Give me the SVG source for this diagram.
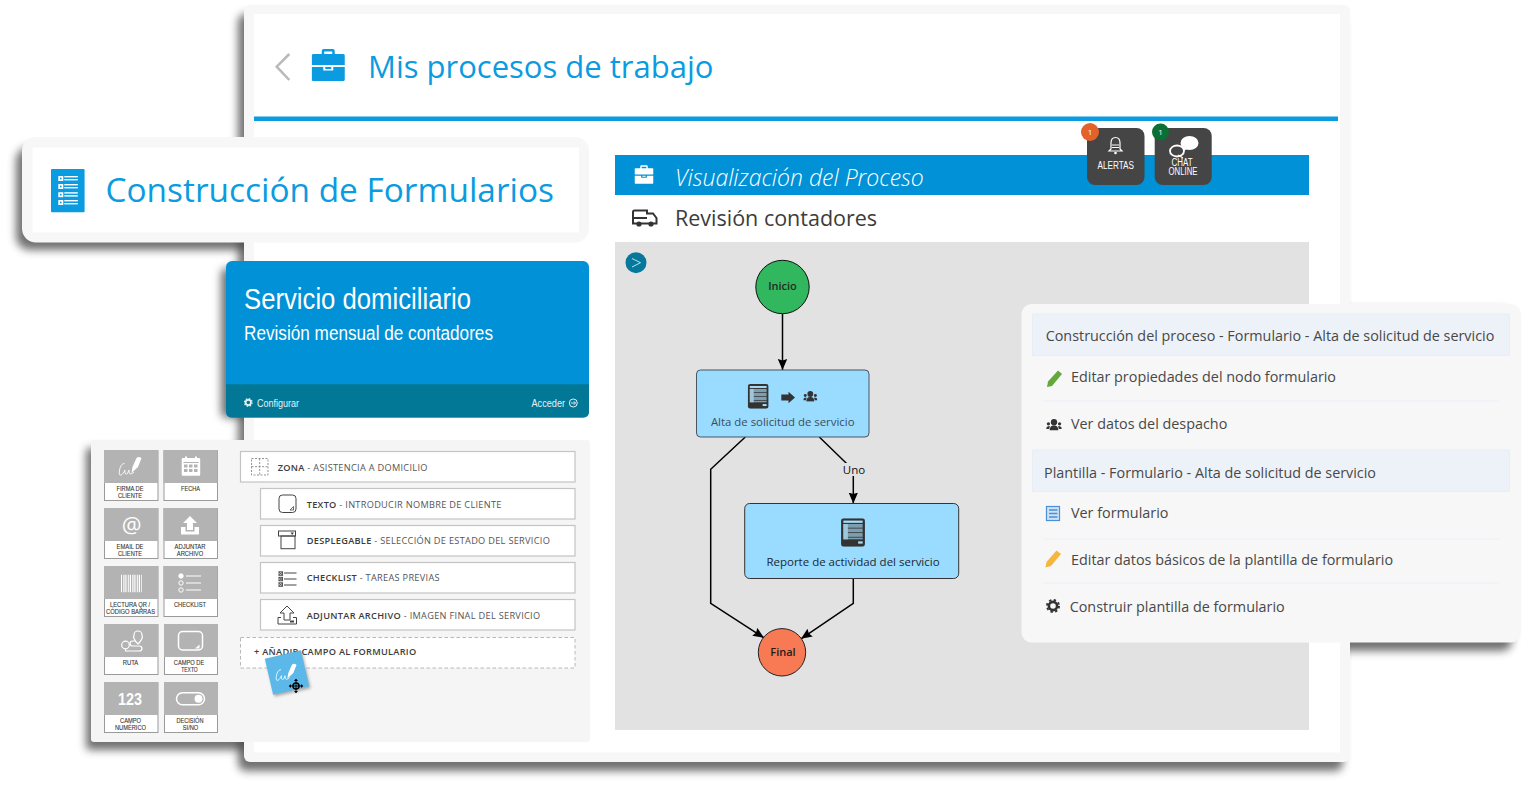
<svg xmlns="http://www.w3.org/2000/svg" width="1531" height="790" viewBox="0 0 1531 790">
<style>
text{font-family:"Open Sans","Noto Sans","Liberation Sans",sans-serif}
.sh{fill:#4a4a4a;opacity:.78;filter:url(#bl)}
.title{fill:#0a9be0;font-weight:400}
.tile-g{fill:#b3b3b3}
.tile{fill:#fff;stroke:#9a9a9a;stroke-width:1}
.tl{font-family:"Liberation Sans",Arial,sans-serif;font-size:7px;fill:#333;text-anchor:middle;stroke:#333;stroke-width:.1}
.frow{fill:#fff;stroke:#c4c4c4;stroke-width:1.2}
.ft{font-size:9.2px;letter-spacing:.3px;fill:#555}
.ft tspan{font-weight:600;fill:#3c3c3c}
.ic{fill:none;stroke:#444;stroke-width:1}
.w{fill:#fff}
.wl{fill:none;stroke:#fff;stroke-width:1.5}
.edge{fill:none;stroke:#000;stroke-width:1.5}
.nt{font-size:11.4px;fill:#3c4c5c;text-anchor:middle}
.mt{font-size:14.37px;fill:#484848}
.band{fill:#edf2f9;stroke:#e8eef7;stroke-width:1}
.div{stroke:#f0f3f8;stroke-width:2}
.btn{fill:#454545}
.bt{font-family:"Liberation Sans",Arial,sans-serif;font-size:10px;fill:#fff;text-anchor:middle}
.cf{font-family:"Liberation Sans",Arial,sans-serif;font-size:11px;fill:#e4f2f6}
.cd{font-family:"Liberation Sans",Arial,sans-serif;fill:#fff}
</style>
<defs>
<filter id="bl" x="-10%" y="-20%" width="120%" height="140%"><feGaussianBlur stdDeviation="4"/></filter>
<filter id="sm" x="-30%" y="-30%" width="160%" height="160%"><feGaussianBlur stdDeviation="1.5"/></filter>
<marker id="ah" markerUnits="userSpaceOnUse" markerWidth="12" markerHeight="10" refX="11" refY="5" orient="auto"><path d="M0,0.3 L11,5 L0,9.7 L1.5,5 Z" fill="#000"/></marker>
<symbol id="table" viewBox="0 0 21 25"><rect width="21" height="25" rx="2.5" fill="#333"/><rect x="2" y="2" width="17" height="2" fill="#a8dcf5"/><g fill="#7d9eb0"><rect x="2" y="5" width="17" height="3.3"/><rect x="2" y="9" width="17" height="3.3"/><rect x="2" y="13" width="17" height="3.3"/><rect x="2" y="17" width="17" height="1.5"/></g><g fill="#9cc7dc"><rect x="2" y="5" width="4" height="13.5"/></g><rect x="15" y="20.3" width="4" height="2" fill="#a8dcf5"/></symbol>
<symbol id="users" viewBox="0 0 16 12"><circle cx="8" cy="3.3" r="3.3" fill="#333"/><circle cx="2.2" cy="5" r="1.7" fill="#333"/><circle cx="13.8" cy="5" r="1.7" fill="#333"/><path d="M3.5,12 C3.5,8 5.5,6.8 8,6.8 C10.5,6.8 12.5,8 12.5,12Z" fill="#333"/><path d="M0,10.5 C0,8 1,7.3 3.7,7.3 L3,10.5Z M16,10.5 C16,8 15,7.3 12.3,7.3 L13,10.5Z" fill="#333"/></symbol>
<symbol id="sig" viewBox="0 0 24 20"><path d="M6.5,7 C3,6.5 .5,14 1.5,18 C3,20 6,16.5 7,13.5 C6.5,16 7.5,19 9.5,17 L11,13.5 C10.5,18 13,18.5 16,15.5" fill="none" stroke="#fff" stroke-width=".9"/><path d="M13.5,16.5 L14.5,10.5 L18.5,1.5 Q21,-.5 23.5,1.8 L20,10.5Z" fill="#fff"/></symbol>
<symbol id="brief" viewBox="0 0 33 32"><path d="M10,5 V2 Q10,0 12,0 H21 Q23,0 23,2 V5 H20.5 V2.5 H12.5 V5Z M1.5,5 H31.5 Q33,5 33,6.5 V16 H0 V6.5 Q0,5 1.5,5Z M0,18 H11.5 V21.5 H21.5 V18 H33 V30.5 Q33,32 31.5,32 H1.5 Q0,32 0,30.5Z M13.5,18 H19.5 V20 H13.5Z" fill="currentColor"/></symbol>
<symbol id="gear" viewBox="0 0 16 16"><circle cx="8" cy="8" r="4.7" fill="none" stroke="currentColor" stroke-width="3"/><circle cx="8" cy="8" r="6.9" fill="none" stroke="currentColor" stroke-width="2.2" stroke-dasharray="2.7 2.72"/></symbol>
</defs>

<g id="shadows">
<rect class="sh" x="16" y="147" width="500" height="103" rx="14"/>
<rect class="sh" x="86" y="448" width="300" height="302" rx="4"/>
<rect class="sh" x="221" y="268" width="100" height="150" rx="6"/>
<rect class="sh" x="1300" y="310" width="212" height="341" rx="10"/>
<rect class="sh" x="238" y="14" width="1105" height="757" rx="8"/>
</g>

<g id="panel-main">
<rect x="244" y="5" width="1106" height="757" rx="6" fill="#f7f7f7"/>
<rect x="254" y="14" width="1086" height="738.5" fill="#fff"/>
<polyline points="289.3,54 276.7,66.7 289.3,80" fill="none" stroke="#b9b9b9" stroke-width="2.5"/>
<use href="#brief" x="311.5" y="49" width="33.5" height="32" color="#0a9be0"/>
<text class="title" x="368" y="78" font-size="31">Mis procesos de trabajo</text>
<rect x="254" y="116.5" width="1084" height="4.5" fill="#0a9be0"/>
</g>

<g id="process-header">
<rect x="615" y="155" width="694" height="40" fill="#0091d6"/>
<use href="#brief" x="634.5" y="165" width="19" height="19" color="#fff"/>
<text x="675" y="186" font-size="23" font-style="italic" font-weight="300" fill="#fff">Visualización del Proceso</text>
<path d="M633,212 Q633,210.5 634.5,210.5 H647 V213.5 H653 L656.5,218 V223.5 H633Z" fill="none" stroke="#333" stroke-width="2"/>
<rect x="633" y="217" width="14" height="2" fill="#333"/><circle cx="639" cy="224" r="2.6" fill="#333"/><circle cx="651" cy="224" r="2.6" fill="#333"/>
<text x="675" y="226" font-size="21.5" fill="#3c3c3c">Revisión contadores</text>
</g>

<g id="btn-alertas">
<rect class="btn" x="1087" y="128" width="57.5" height="57" rx="8"/>
<path d="M1111,149 V143 Q1111,137.5 1115.5,137.5 Q1120,137.5 1120,143 V149 L1122,151 H1109Z" fill="none" stroke="#fff" stroke-width="1.2"/><path d="M1112,145 H1119 M1112,147.5 H1119" stroke="#fff" stroke-width="1"/><circle cx="1115.5" cy="153" r="1.3" fill="#fff"/>
<text class="bt" x="1115.7" y="169" textLength="36.5" lengthAdjust="spacingAndGlyphs">ALERTAS</text>
<circle cx="1090" cy="132" r="9" fill="#e2622a"/>
<text x="1090" y="135" font-size="8" fill="#fff" text-anchor="middle">1</text>
</g>
<g id="btn-chat">
<rect class="btn" x="1154.7" y="128" width="57" height="57" rx="8"/>
<ellipse cx="1189.5" cy="143" rx="9" ry="7" fill="#fff"/><path d="M1183,147 L1180,153 L1187,149Z" fill="#fff"/>
<ellipse cx="1177" cy="151" rx="7" ry="5.5" fill="#454545" stroke="#fff" stroke-width="1.8"/><path d="M1178,155 L1183,158" stroke="#fff" stroke-width="1.3"/>
<text class="bt" x="1182" y="166" textLength="21" lengthAdjust="spacingAndGlyphs">CHAT</text>
<text class="bt" x="1183" y="175" textLength="29" lengthAdjust="spacingAndGlyphs">ONLINE</text>
<circle cx="1160.5" cy="132" r="8.5" fill="#0a7034"/>
<text x="1160.5" y="135" font-size="8" fill="#fff" text-anchor="middle">1</text>
</g>

<g id="canvas">
<rect x="615" y="242" width="694" height="488" fill="#e2e2e2"/>
<circle cx="636" cy="262.7" r="10.5" fill="#04799b"/>
<polyline points="632,258.5 640.5,262.7 632,267" fill="none" stroke="#d4eef5" stroke-width=".9"/>
</g>

<g id="connectors">
<path class="edge" d="M782.5,314 V370" marker-end="url(#ah)"/>
<path class="edge" d="M745.3,437 L710.7,469.3 V603.3 L764,637.8" marker-end="url(#ah)"/>
<path class="edge" d="M819.3,437 L853.3,470 V503.5" marker-end="url(#ah)"/>
<path class="edge" d="M853.3,578.3 V603.3 L801,638.8" marker-end="url(#ah)"/>
<rect x="841" y="463" width="26" height="13" fill="#e2e2e2"/>
<text x="854" y="474" font-size="11.5" fill="#111" text-anchor="middle">Uno</text>
</g>

<g id="n-inicio">
<circle cx="782.5" cy="287" r="26.7" fill="#31b75e" stroke="#111" stroke-width="1"/>
<text x="782.5" y="290" font-size="11" font-weight="600" fill="#1f2d26" text-anchor="middle">Inicio</text>
</g>
<g id="n-alta">
<rect x="696.5" y="370" width="172.5" height="67" rx="4" fill="#99dcff" stroke="#4a5560" stroke-width="1"/>
<use href="#table" x="747.7" y="384" width="21" height="24.7"/>
<polygon points="781.3,394.5 788.5,394.5 788.5,391.7 795,397.5 788.5,403.3 788.5,400.5 781.3,400.5" fill="#333"/>
<use href="#users" x="803.3" y="391" width="14" height="10.7"/>
<text class="nt" x="782.7" y="426">Alta de solicitud de servicio</text>
</g>
<g id="n-reporte">
<rect x="744.7" y="503.5" width="214" height="75" rx="5" fill="#99dcff" stroke="#333" stroke-width="1"/>
<use href="#table" x="841" y="518.3" width="24" height="28.4"/>
<text x="853" y="566" font-size="11.5" fill="#1c2833" text-anchor="middle">Reporte de actividad del servicio</text>
</g>
<g id="n-final">
<circle cx="782" cy="652.3" r="23.7" fill="#f77a55" stroke="#222" stroke-width="1"/>
<text x="783" y="656" font-size="11" font-weight="600" fill="#2a1c18" text-anchor="middle">Final</text>
</g>

<g id="panel-formularios">
<rect x="22" y="137" width="567" height="105.5" rx="14" fill="#f7f7f7"/>
<rect x="32.5" y="147.5" width="546.5" height="85" fill="#fff"/>
<rect x="51" y="169" width="33.6" height="43.3" rx="1" fill="#0a9be0"/>
<g fill="#fff"><rect x="58.3" y="176" width="5" height="5"/><rect x="58.3" y="184" width="5" height="5"/><rect x="58.3" y="192.2" width="5" height="5"/><rect x="58.3" y="200" width="5" height="5"/>
<rect x="64.3" y="176" width="13.5" height="1.4"/><rect x="64.3" y="179" width="13.5" height="1.4"/><rect x="64.3" y="184" width="13.5" height="1.4"/><rect x="64.3" y="187" width="13.5" height="1.4"/><rect x="64.3" y="192.2" width="13.5" height="1.4"/><rect x="64.3" y="195.2" width="13.5" height="1.4"/><rect x="64.3" y="200" width="13.5" height="1.4"/><rect x="64.3" y="203" width="13.5" height="1.4"/></g>
<g fill="#0a9be0"><rect x="60" y="177.7" width="1.6" height="1.6"/><rect x="60" y="185.7" width="1.6" height="1.6"/><rect x="60" y="193.9" width="1.6" height="1.6"/><rect x="60" y="201.7" width="1.6" height="1.6"/></g>
<text class="title" x="105.5" y="202" font-size="33.4">Construcción de Formularios</text>
</g>

<g id="card-servicio">
<rect x="226" y="261" width="363" height="156.5" rx="6" fill="#0091d6"/>
<path d="M226,384.3 H589 V411.5 Q589,417.5 583,417.5 H232 Q226,417.5 226,411.5Z" fill="#027896"/>
<text class="cd" x="244" y="308.5" font-size="30" textLength="227" lengthAdjust="spacingAndGlyphs">Servicio domiciliario</text>
<text class="cd" x="244" y="340" font-size="20" textLength="249" lengthAdjust="spacingAndGlyphs">Revisión mensual de contadores</text>
<use href="#gear" x="243.8" y="398" width="9" height="9" color="#e4f2f6"/>
<text class="cf" x="257" y="407" textLength="42" lengthAdjust="spacingAndGlyphs">Configurar</text>
<text class="cf" x="531.5" y="407" textLength="33.5" lengthAdjust="spacingAndGlyphs">Acceder</text>
<circle cx="573.3" cy="403" r="4" fill="none" stroke="#e4f2f6" stroke-width="1"/><path d="M570.8,403 H575.5 M573.8,401.2 L575.5,403 L573.8,404.8" fill="none" stroke="#e4f2f6" stroke-width=".9"/>
</g>

<g id="panel-campos">
<rect x="91" y="440" width="499" height="302" rx="3" fill="#f5f5f5"/>
</g>

<g id="palette">
<g id="t-firma"><rect class="tile" x="104.5" y="450.5" width="53.5" height="50"/><rect class="tile-g" x="104" y="450" width="54" height="33"/><use href="#sig" x="118" y="456.5" width="24" height="20"/><text class="tl" x="130" y="491" textLength="27" lengthAdjust="spacingAndGlyphs">FIRMA DE</text><text class="tl" x="130" y="498" textLength="24" lengthAdjust="spacingAndGlyphs">CLIENTE</text></g>
<g id="t-fecha"><rect class="tile" x="164" y="450.5" width="53.5" height="50"/><rect class="tile-g" x="163.5" y="450" width="54" height="33"/><rect class="w" x="181.7" y="458" width="18.5" height="17.7" rx="1"/><rect class="w" x="185" y="456.5" width="2" height="3"/><rect class="w" x="195" y="456.5" width="2" height="3"/><g fill="#b3b3b3"><rect x="183.5" y="462" width="15" height="1"/><rect x="184" y="464.5" width="3.5" height="3"/><rect x="189" y="464.5" width="3.5" height="3"/><rect x="194" y="464.5" width="3.5" height="3"/><rect x="184" y="469" width="3.5" height="3"/><rect x="189" y="469" width="3.5" height="3"/><rect x="194" y="469" width="3.5" height="3"/></g><text class="tl" x="190.5" y="491" textLength="19" lengthAdjust="spacingAndGlyphs">FECHA</text></g>
<g id="t-email"><rect class="tile" x="104.5" y="508.5" width="53.5" height="50"/><rect class="tile-g" x="104" y="508" width="54" height="33"/><text x="131.5" y="533" font-size="22" fill="#fff" text-anchor="middle">@</text><text class="tl" x="130" y="549" textLength="27" lengthAdjust="spacingAndGlyphs">EMAIL DE</text><text class="tl" x="130" y="556" textLength="24" lengthAdjust="spacingAndGlyphs">CLIENTE</text></g>
<g id="t-adjuntar"><rect class="tile" x="164" y="508.5" width="53.5" height="50"/><rect class="tile-g" x="163.5" y="508" width="54" height="33"/><path class="w" d="M190,516 L197,523 H193 V530 H187 V523 H183Z"/><path class="w" d="M181,527 H185.5 V531.5 H194.5 V527 H199 V534.5 H181Z"/><text class="tl" x="190" y="549" textLength="31" lengthAdjust="spacingAndGlyphs">ADJUNTAR</text><text class="tl" x="190" y="556" textLength="26.5" lengthAdjust="spacingAndGlyphs">ARCHIVO</text></g>
<g id="t-qr"><rect class="tile" x="104.5" y="566.5" width="53.5" height="50"/><rect class="tile-g" x="104" y="566" width="54" height="33"/><line x1="121" x2="142" y1="583.5" y2="583.5" stroke="#fff" stroke-width="17.5" stroke-dasharray="1 1 .7 .8 1.2 .8 .7 1 1 .8"/><text class="tl" x="130" y="607" textLength="40" lengthAdjust="spacingAndGlyphs">LECTURA QR /</text><text class="tl" x="130.500" y="614" textLength="49" lengthAdjust="spacingAndGlyphs">CÓDIGO BARRAS</text></g>
<g id="t-checklist"><rect class="tile" x="164" y="566.5" width="53.5" height="50"/><rect class="tile-g" x="163.5" y="566" width="54" height="33"/><g class="wl" style="stroke-width:1"><circle cx="181" cy="576" r="2.2" fill="#fff"/><circle cx="181" cy="583" r="2.2"/><circle cx="181" cy="590" r="2.2"/><path d="M186,576 H201 M186,583 H201 M186,590 H201"/></g><text class="tl" x="190" y="607" textLength="32" lengthAdjust="spacingAndGlyphs">CHECKLIST</text></g>
<g id="t-ruta"><rect class="tile" x="104.5" y="624.5" width="53.5" height="50"/><rect class="tile-g" x="104" y="624" width="54" height="33"/><g class="wl" style="stroke-width:1.2"><path d="M138,644 C134,640 133,637 134,635 A4,4 0 1 1 142,635 C143,637 142,640 138,644Z"/><circle cx="125.5" cy="645" r="3.8"/><path d="M125.5,649 V651 H139 Q142,651 142,648.5 Q142,646 139,646 H133 Q130,646 130,643.5 Q130,641 133,641 H135"/></g><text class="tl" x="130.500" y="665" textLength="15.5" lengthAdjust="spacingAndGlyphs">RUTA</text></g>
<g id="t-texto"><rect class="tile" x="164.5" y="624.5" width="53" height="50"/><rect class="tile-g" x="164" y="624" width="54" height="33"/><rect class="wl" x="178.5" y="631.5" width="24" height="18.5" rx="4"/><polygon class="w" points="199.5,644.5 199.5,648.5 195,648.5"/><text class="tl" x="189" y="665" textLength="30.5" lengthAdjust="spacingAndGlyphs">CAMPO DE</text><text class="tl" x="189.500" y="672" textLength="16.5" lengthAdjust="spacingAndGlyphs">TEXTO</text></g>
<g id="t-numerico"><rect class="tile" x="104.5" y="682.5" width="53.5" height="50"/><rect class="tile-g" x="104" y="682" width="54" height="33"/><text class="cd" x="118" y="704.5" font-size="17" font-weight="700" textLength="24" lengthAdjust="spacingAndGlyphs">123</text><text class="tl" x="130.500" y="723" textLength="21" lengthAdjust="spacingAndGlyphs">CAMPO</text><text class="tl" x="130.500" y="730" textLength="31" lengthAdjust="spacingAndGlyphs">NUMÉRICO</text></g>
<g id="t-decision"><rect class="tile" x="164.5" y="682.5" width="53" height="50"/><rect class="tile-g" x="164" y="682" width="54" height="33"/><rect class="wl" x="176.5" y="692.7" width="28" height="12" rx="6"/><circle class="w" cx="198.5" cy="698.7" r="4"/><text class="tl" x="190" y="723" textLength="27" lengthAdjust="spacingAndGlyphs">DECISIÓN</text><text class="tl" x="190.500" y="730" textLength="15.5" lengthAdjust="spacingAndGlyphs">SI/NO</text></g>
</g>

<g id="f-zona">
<rect class="frow" x="240.5" y="451.5" width="334.5" height="30.5"/>
<rect x="251.5" y="458.5" width="16.5" height="16.5" fill="none" stroke="#777" stroke-width=".8" stroke-dasharray="2 1.5"/><path d="M259.7,458.5 V475 M251.5,466.7 H268" stroke="#777" stroke-width=".8" stroke-dasharray="2 1.5"/>
<text class="ft" x="277.7" y="470.7"><tspan>ZONA</tspan> - ASISTENCIA A DOMICILIO</text>
</g>
<g id="f-texto">
<rect class="frow" x="260.5" y="488.5" width="314.5" height="30.5"/>
<rect class="ic" x="279" y="495" width="17" height="17.5" rx="3.5"/><polygon points="293.5,506.5 293.5,510 290,510" fill="none" stroke="#444" stroke-width=".8"/>
<text class="ft" x="306.7" y="507.7"><tspan>TEXTO</tspan> - INTRODUCIR NOMBRE DE CLIENTE</text>
</g>
<g id="f-desplegable">
<rect class="frow" x="260.5" y="525.5" width="314.5" height="30.5"/>
<rect class="ic" x="278.5" y="531" width="17" height="5"/><rect class="ic" x="281" y="536" width="14" height="12.7"/><polygon points="290.5,532.5 294,532.5 292.2,535" fill="#444"/>
<text class="ft" x="306.7" y="543.7"><tspan>DESPLEGABLE</tspan> - SELECCIÓN DE ESTADO DEL SERVICIO</text>
</g>
<g id="f-checklist">
<rect class="frow" x="260.5" y="562.5" width="314.5" height="30.5"/>
<g fill="none" stroke="#444" stroke-width=".9"><rect x="279" y="571.8" width="3.5" height="3.5"/><rect x="279" y="577.3" width="3.5" height="3.5"/><rect x="279" y="582.8" width="3.5" height="3.5"/><path d="M279,571.8 L282.5,575.3 M282.5,571.8 L279,575.3 M279,577.3 L282.5,580.8 M282.5,577.3 L279,580.8 M279,582.8 L282.5,586.3 M282.5,582.8 L279,586.3"/></g><path class="ic" d="M284,573 H296.5 M284,579 H296.5 M284,585 H296.5"/>
<text class="ft" x="306.7" y="581.3"><tspan>CHECKLIST</tspan> - TAREAS PREVIAS</text>
</g>
<g id="f-adjuntar">
<rect class="frow" x="260.5" y="599.5" width="314.5" height="30.5"/>
<path class="ic" d="M287,606 L294,613 H290 V620 H284 V613 H280Z"/><path class="ic" d="M281,617.5 H278 V624 H296.5 V617.5 H293"/><rect x="290" y="620.5" width="4" height="2" fill="#444"/>
<text class="ft" x="306.7" y="619"><tspan>ADJUNTAR ARCHIVO</tspan> - IMAGEN FINAL DEL SERVICIO</text>
</g>
<g id="f-anadir">
<rect x="240.5" y="637.5" width="334.5" height="30.5" fill="#fff" stroke="#b8b8b8" stroke-width="1" stroke-dasharray="3.5 2.5"/>
<text class="ft" x="254" y="655" style="fill:#3c3c3c;font-weight:600">+ AÑADIR CAMPO AL FORMULARIO</text>
</g>

<g id="drag-chip">
<rect x="270" y="656" width="37" height="37" transform="rotate(-13 288.5 674.5)" fill="#222" opacity=".35" filter="url(#sm)"/>
<rect x="268.5" y="654" width="37" height="37" transform="rotate(-13 287 672.5)" fill="#5cb8e8"/>
<use href="#sig" x="275" y="660" width="22" height="25"/>
<g stroke="#000" fill="none"><circle cx="296" cy="686" r="3" stroke-width="1.5"/><path d="M289.5,686 H302.5 M296,679.5 V692.5" stroke-width="1"/></g>
<g fill="#000"><polygon points="288.8,686 291,684 291,688"/><polygon points="303.2,686 301,684 301,688"/><polygon points="296,678.8 294,681 298,681"/><polygon points="296,693.2 294,691 298,691"/></g>
</g>

<g id="panel-construccion">
<rect x="1021.5" y="304" width="499.5" height="338.5" rx="10" fill="#f7f7f7"/>
<rect class="band" x="1032.5" y="314" width="477" height="41.5"/>
<rect class="band" x="1032.5" y="450" width="477" height="41.5"/>
<path class="div" d="M1043,401 H1500 M1043,539 H1500 M1043,583 H1500"/>
<text class="mt" x="1045.7" y="341">Construcción del proceso - Formulario - Alta de solicitud de servicio</text>
<polygon points="1058,370.5 1062,374 1052,386 1047,387 1048,381.5" fill="#63a83a"/>
<text class="mt" x="1071" y="382">Editar propiedades del nodo formulario</text>
<use href="#users" x="1046" y="419" width="16" height="11.5"/>
<text class="mt" x="1071" y="428.5">Ver datos del despacho</text>
<text class="mt" x="1044" y="478">Plantilla - Formulario - Alta de solicitud de servicio</text>
<rect x="1046.5" y="506.5" width="13" height="14" fill="#cfe3f5" stroke="#4a90d9" stroke-width="1.2"/><path d="M1049,510 H1057.5 M1049,513.5 H1057.5 M1049,517 H1057.5" stroke="#4a90d9" stroke-width="1.3"/>
<text class="mt" x="1071" y="518">Ver formulario</text>
<polygon points="1056.5,550.5 1061,554 1051,566 1045.5,567.5 1046.5,562" fill="#f5b63e"/>
<text class="mt" x="1071" y="564.5">Editar datos básicos de la plantilla de formulario</text>
<use href="#gear" x="1046" y="599" width="14" height="14" color="#333"/>
<text class="mt" x="1069.7" y="612">Construir plantilla de formulario</text>
</g>
</svg>
